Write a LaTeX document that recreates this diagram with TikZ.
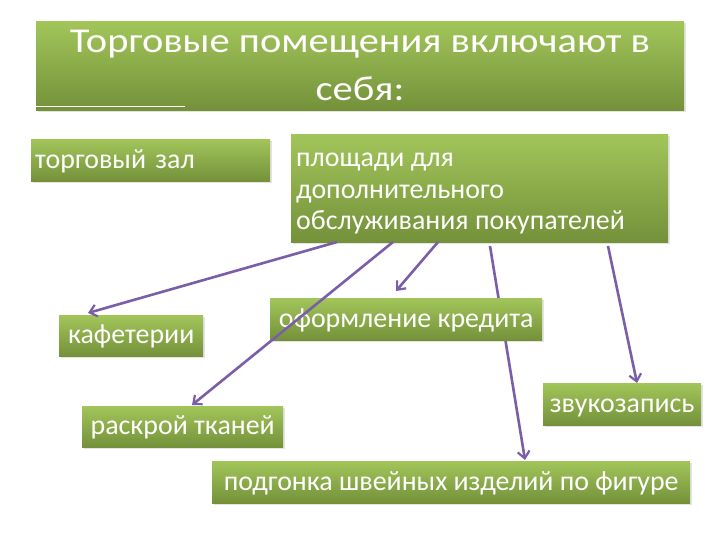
\documentclass[tikz,border=0pt]{standalone}
\usepackage{fontspec}
\setmainfont{Carlito}
\newfontfamily\widefont[FakeStretch=1.16]{Carlito}
\usetikzlibrary{arrows.meta,shadows}
\definecolor{gtop}{HTML}{A2C55A}
\definecolor{gbot}{HTML}{74913A}
\definecolor{arr}{HTML}{7A5FA8}
\tikzset{
  gbox/.style={rectangle, top color=gtop, bottom color=gbot, draw=none,
    text=white, inner xsep=4bp, inner ysep=0bp, anchor=north west,
    text height=22bp, text depth=6bp,
    font=\fontsize{28}{31.5}\selectfont,
    drop shadow={shadow xshift=1.5bp, shadow yshift=-1.5bp, opacity=0.22}},
  ttext/.style={text=white, inner sep=0pt, anchor=base,
    font=\widefont\fontsize{35}{40}\selectfont},
  btext/.style={text=white, inner sep=0pt, anchor=base west, align=left,
    font=\fontsize{28}{31.7}\selectfont},
  conn/.style={draw=arr, line width=2.6bp, -{Straight Barb[length=7bp,width=12bp,line width=2.2bp]}},
}
\begin{document}
\begin{tikzpicture}[x=1bp,y=-1bp]
\useasboundingbox (0,0) rectangle (720,540);
\fill[white] (0,0) rectangle (720,540);
% title
\node[gbox, minimum width=648bp, minimum height=89bp, text height=, text depth=] (title) at (36,21) {};
\node[ttext] (t1) at (360,53) {Торговые помещения включают в};
\node[ttext] (t2) at (360,101) {себя:};
\draw[white, line width=1.2bp] (36,106.5) coordinate (wl) -- (185,106.5) coordinate (wr);
% first row
\node[gbox, minimum width=239bp, minimum height=42bp, text width=231bp, align=left] (zal) at (31,139) {торговый зал};
\node[gbox, minimum width=377bp, minimum height=108bp, text height=, text depth=] (pl) at (291,134) {};
\node[btext] (pltxt) at (296,230) {площади для\\дополнительного\\обслуживания покупателей};
% start points on the bottom of pl
\coordinate (s1) at (337,242);
\coordinate (s2) at (393,242);
\coordinate (s3) at (438,242);
\coordinate (s4) at (490,246);
\coordinate (s5) at (608,246);
% arrow hidden behind credit box
\coordinate (e4) at (525,460);
\draw[conn] (s4) -- (e4);
% second row
\node[gbox, minimum width=144bp, minimum height=41bp, align=center] (kaf) at (59,315) {кафетерии};
\node[gbox, minimum width=272bp, minimum height=42bp, align=center] (kred) at (270,298) {оформление кредита};
\node[gbox, minimum width=201bp, minimum height=41bp, align=center] (tk) at (82,406) {раскрой тканей};
\node[gbox, minimum width=158bp, minimum height=42bp, align=center] (zv) at (543,383) {звукозапись};
\node[gbox, minimum width=478bp, minimum height=42bp, align=center] (pod) at (212,461) {подгонка швейных изделий по фигуре};
% end coordinates
\coordinate (e1) at (88,313);
\coordinate (e2) at (192,405);
\coordinate (e3) at (396,291);
\coordinate (e5) at (637,383);
\draw[conn] (s1) -- (e1);
\draw[conn] (s2) -- (e2);
\draw[conn] (s3) -- (e3);
\draw[conn] (s5) -- (e5);
\end{tikzpicture}
\end{document}
